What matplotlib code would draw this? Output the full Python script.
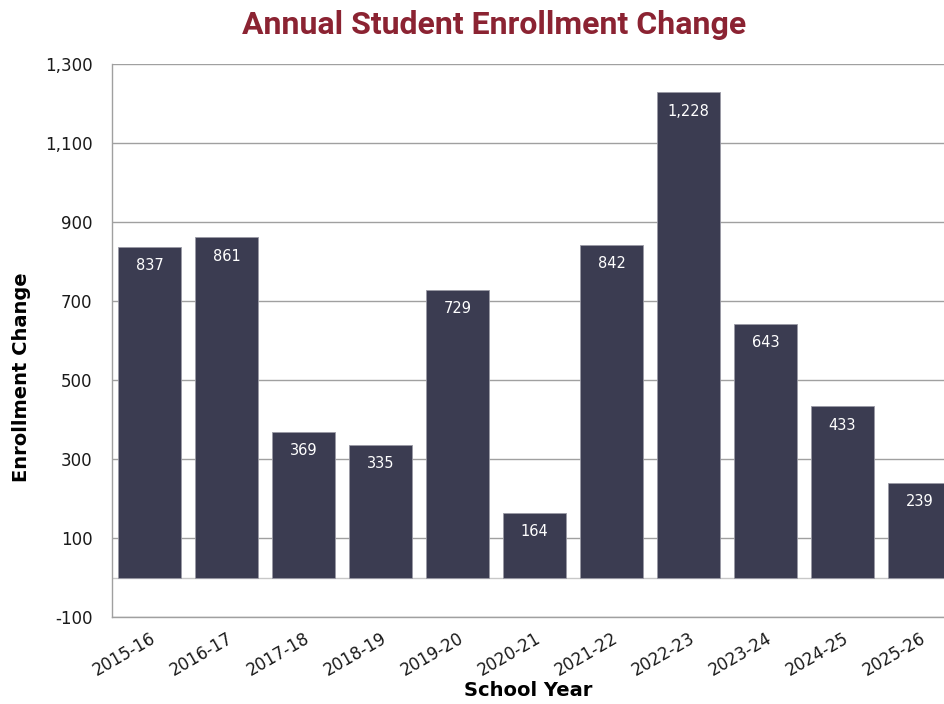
import matplotlib
matplotlib.use("Agg")
import matplotlib.pyplot as plt
from matplotlib.ticker import FuncFormatter

years = ["2015-16", "2016-17", "2017-18", "2018-19", "2019-20", "2020-21",
         "2021-22", "2022-23", "2023-24", "2024-25", "2025-26"]
changes = [837, 861, 369, 335, 729, 164, 842, 1228, 643, 433, 239]
yticks = [-100, 100, 300, 500, 700, 900, 1100, 1300]

plt.rcParams['font.family'] = ['DejaVu Sans']

fig = plt.figure(figsize=(9.44, 7.04), dpi=100)
ax = fig.add_axes([112/944, 87/704, 1 - 112/944, (617-64)/704])

x = list(range(len(years)))
bar_color = "#3b3c51"
bars = ax.bar(x, changes, width=0.82, color=bar_color, edgecolor="#9a9aa5",
              linewidth=0.6, zorder=3)
for xi, v in zip(x, changes):
    ax.annotate(f"{v:,}", (xi, v), xytext=(0, -13.5), textcoords="offset points",
                ha="center", va="center", color="white", fontsize=10.5, zorder=4)

ax.set_ylim(-100, 1300)
ax.set_yticks(yticks)
ax.yaxis.set_major_formatter(FuncFormatter(lambda v, p: f"{int(v):,}"))
ax.set_xlim(-0.487, (944 - 149.5) / 77)
ax.set_xticks(x)
ax.set_xticklabels(years, rotation=30, ha="right", rotation_mode="anchor", fontsize=12)
ax.tick_params(axis="y", labelsize=12, length=0, pad=14, labelcolor="#1a1a1a")
ax.tick_params(axis="x", length=0, pad=9, labelcolor="#1a1a1a")

ax.grid(axis="y", color="#a0a0a0", linewidth=1.0, zorder=0)
ax.axhline(0, color="#c8c8c8", linewidth=1.0, zorder=1)
for s in ["top", "right"]:
    ax.spines[s].set_visible(False)
ax.spines["left"].set_color("#a0a0a0")
ax.spines["bottom"].set_color("#a0a0a0")
ax.spines["left"].set_linewidth(1.0)
ax.spines["bottom"].set_linewidth(1.0)

ax.set_ylabel("Enrollment Change", fontsize=14, fontweight="bold")
ax.yaxis.set_label_coords(-(112 - 31) / 832, (617 - 377) / 553)
ax.set_xlabel("School Year", fontsize=14, fontweight="bold", labelpad=1)

fig.text(0.523, 0.964, "Annual Student Enrollment Change", ha="center", va="center",
         fontsize=23, fontweight="bold", color="#8b2332",
         family=['Roboto', 'DejaVu Sans'])

fig.savefig("out.png", dpi=100)
